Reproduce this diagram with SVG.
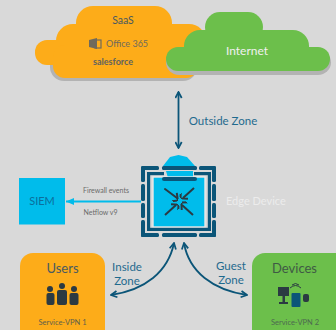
<svg xmlns="http://www.w3.org/2000/svg" width="336" height="330" viewBox="0 0 336 330">
<defs>
<marker id="h" viewBox="0 0 10 10" refX="8.5" refY="5" markerWidth="8" markerHeight="8" markerUnits="userSpaceOnUse" orient="auto-start-reverse"><path d="M1 1L8.5 5L1 9" fill="none" stroke="#0b5578" stroke-width="2.2"/></marker>
<marker id="b" viewBox="0 0 10 10" refX="9" refY="5" markerWidth="9" markerHeight="9" markerUnits="userSpaceOnUse" orient="auto"><path d="M0 1L9 5L0 9Z" fill="#00bceb"/></marker>
<marker id="k" viewBox="0 0 10 10" refX="8" refY="5" markerWidth="10" markerHeight="10" markerUnits="userSpaceOnUse" orient="auto"><path d="M1 8.5H8.5V1" transform="rotate(-45 8 5) translate(0 -1)" fill="none" stroke="#2b3a42" stroke-width="2"/></marker>
</defs>
<style>
text{font-family:"Lato","Liberation Sans",sans-serif}
.o{fill:#fdac19}.g{fill:#6cbf4b}.s{fill:#b3b3b3}.d{fill:#0b5578}
.z{fill:#1f6a8e;font-size:11.5px;text-anchor:middle}
.c{fill:none;stroke:#0b5578;stroke-width:1.8;marker-start:url(#h);marker-end:url(#h)}
.t{fill:#4a5a60;text-anchor:middle}
.a{stroke:#2b3a42;stroke-width:2;marker-end:url(#k)}
</style>
<rect width="336" height="330" fill="#d9d9d9"/>
<g id="saas">
<rect class="s" x="50" y="48" width="147" height="33" rx="14"/>
<rect class="o" x="76" y="6" width="96" height="40" rx="17"/>
<rect class="o" x="56" y="24" width="150" height="40" rx="17"/>
<rect class="o" x="35" y="40" width="60" height="25" rx="12"/>
<rect class="o" x="53" y="45" width="145" height="33" rx="12"/>
<text class="t" x="123" y="24" font-size="10.5">SaaS</text>
<path d="M89 40L97 38V49L89 47Z" fill="#6f6a5c"/><rect x="95" y="40" width="6" height="8" fill="none" stroke="#6f6a5c" stroke-width="1.2"/>
<text x="106" y="47" font-size="9" fill="#6f6a5c">Office 365</text>
<text x="93" y="65" font-size="9" font-weight="700" fill="#5f6260">salesforce</text>
</g>
<g id="internet">
<rect class="s" x="166" y="50" width="165" height="25" rx="13"/>
<rect class="g" x="205" y="12" width="58" height="30" rx="15"/>
<rect class="g" x="184" y="30" width="125" height="35" rx="16"/>
<rect class="g" x="166" y="47" width="164" height="24" rx="12"/>
<text x="247" y="55" font-size="12" fill="#f0f0f0" text-anchor="middle">Internet</text>
</g>
<g id="connectors">
<path class="c" d="M178.500 92V148"/>
<path d="M141 201.500H66" stroke="#00bceb" stroke-width="2.200" fill="none" marker-end="url(#b)"/>
<path class="c" d="M111 295C145 290 168 272 174 243"/>
<path class="c" d="M247 295C213 290 189 272 184 243"/>
</g>
<g id="labels">
<text class="z" x="223" y="125">Outside Zone</text>
<text x="106" y="193" font-size="7" fill="#6a6a6a" text-anchor="middle">Firewall events</text>
<text x="100.500" y="215" font-size="7" fill="#6a6a6a" text-anchor="middle">Netflow v9</text>
<text class="z" x="127" y="271">Inside</text><text class="z" x="127" y="285">Zone</text>
<text class="z" x="231" y="270">Guest</text><text class="z" x="231" y="284">Zone</text>
</g>
<g id="siem">
<rect x="19" y="178" width="46" height="46.500" fill="#00bceb"/>
<text x="42" y="205" font-size="11" fill="#0b6f9c" text-anchor="middle">SIEM</text>
</g>
<g id="edge">
<path d="M163 166L170 157 178.500 155 187 157 195 166Z" fill="#00bceb"/>
<path d="M166 171H193V178H168Z" fill="#00bceb"/>
<rect x="153" y="177" width="52" height="50" fill="#00bceb" stroke="#e8e8e8" stroke-width="1.400"/>
<g class="d">
<rect x="141" y="166" width="18" height="4" rx="1.500"/><rect x="162" y="166" width="35" height="4" rx="1.500"/><rect x="199" y="166" width="17" height="4" rx="1.500"/>
<rect x="141" y="166" width="4" height="16" rx="1.500"/><rect x="141" y="184" width="4" height="17" rx="1.500"/><rect x="141" y="203" width="4" height="15" rx="1.500"/><rect x="141" y="220" width="4" height="17" rx="1.500"/>
<rect x="212" y="166" width="4" height="16" rx="1.500"/><rect x="212" y="184" width="4" height="17" rx="1.500"/><rect x="212" y="203" width="4" height="15" rx="1.500"/><rect x="212" y="220" width="4" height="17" rx="1.500"/>
<rect x="141" y="233" width="18" height="4" rx="1.500"/><rect x="162" y="233" width="35" height="4" rx="1.500"/><rect x="199" y="233" width="17" height="4" rx="1.500"/>
<rect x="147" y="172" width="17" height="3.200"/><rect x="194" y="172" width="17" height="3.200"/>
<rect x="147" y="172" width="3.200" height="59"/><rect x="207.800" y="172" width="3.200" height="59"/>
<rect x="147" y="227.800" width="64" height="3.200"/>
<rect x="162" y="177" width="35" height="4" rx="2"/>
</g>
<path class="a" d="M165 189L177 198" stroke-linecap="round"/>
<path class="a" d="M194 188L183 198"/>
<path class="a" d="M165 215L176 205"/>
<path class="a" d="M193 215L182 205"/>
<text x="226" y="205" font-size="11" fill="#ececec">Edge Device</text>
</g>
<g id="users">
<rect class="o" x="20" y="253" width="85" height="90" rx="13"/>
<text class="t" x="62.500" y="273" font-size="13">Users</text>
<g fill="#2b3a42"><circle cx="50" cy="289" r="3"/><circle cx="62" cy="286" r="3"/><circle cx="74" cy="289" r="3"/><rect x="46.500" y="293" width="8" height="12" rx="2"/><rect x="57" y="290" width="10" height="15" rx="2"/><rect x="69.500" y="293" width="9" height="12" rx="2"/></g>
<text x="62.500" y="325" font-size="7.500" fill="#5f5f4a" text-anchor="middle">Service-VPN 1</text>
</g>
<g id="devices">
<rect class="g" x="252" y="253" width="100" height="90" rx="13"/>
<text x="294.500" y="273" font-size="13" fill="#3f5a45" text-anchor="middle">Devices</text>
<g fill="#2b3a42"><rect x="278" y="287" width="11" height="9"/><rect x="282.500" y="296" width="2.500" height="8"/><rect x="279" y="302" width="9" height="2"/><rect x="303" y="294" width="6" height="8" rx="2"/></g>
<rect x="291.500" y="293" width="9" height="14" rx="1" fill="#0b5578"/>
<path d="M290 288Q295.500 283 301 288M292 285Q295.500 282 299 285" fill="none" stroke="#2b3a42" stroke-width="1"/>
<text x="295" y="325" font-size="7.500" fill="#4c6a50" text-anchor="middle">Service-VPN 2</text>
</g>
</svg>
